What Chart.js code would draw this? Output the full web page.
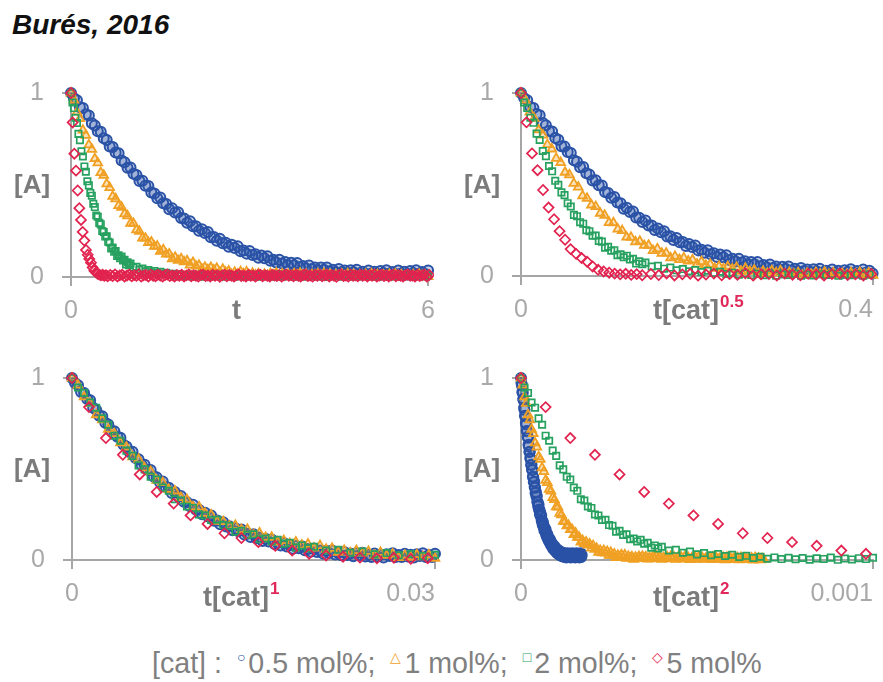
<!DOCTYPE html>
<html><head><meta charset="utf-8">
<script src="https://cdn.jsdelivr.net/npm/chart.js@4.4.1/dist/chart.umd.min.js"></script>
<style>
html,body{margin:0;padding:0;background:#fff}
body{width:883px;height:682px;overflow:hidden;position:relative;font-family:"Liberation Sans",Arial,sans-serif}
canvas{position:absolute}
.t{position:absolute;white-space:nowrap;z-index:5}
#title{left:12px;top:9px;font-weight:bold;font-style:italic;font-size:28px;color:#111}
.yt{font-weight:bold;font-size:26px;color:#7b7b7b}
.xt{font-weight:bold;font-size:27px;color:#7b7b7b}
.xt .sup{color:#e0285a;font-size:17px;position:relative;top:-12px;margin-left:1px}
#legend{font-size:28.6px;color:#808080}
#legend .m{font-size:14px;position:relative;top:-11px;margin:0 3px 0 7px}
</style></head><body>
<div id="title" class="t">Burés, 2016</div>
<canvas id="c0" width="445" height="270" style="left:0;top:60px"></canvas>
<canvas id="c1" width="443" height="270" style="left:440px;top:60px"></canvas>
<canvas id="c2" width="445" height="270" style="left:0;top:345px"></canvas>
<canvas id="c3" width="443" height="270" style="left:440px;top:345px"></canvas>
<div id="legend" class="t" style="left:152px;top:647px"></div>
<script>
// ---- data ----
const seriesLabels = ['0.5 mol%', '1 mol%', '2 mol%', '5 mol%'];
const catalystLoadings = [0.005, 0.01, 0.02, 0.05];   // [cat] for each series
const panelOrders = [0, 0.5, 1, 2];                   // exponent of [cat] on each x axis
const panelXMax = [6, 0.4, 0.03, 0.001];
const panelXTickLabels = [['0', '6'], ['0', '0.4'], ['0', '0.03'], ['0', '0.001']];
const panelXTitle = ['t', 't[cat]', 't[cat]', 't[cat]'];
const panelXTitleSup = ['', '0.5', '1', '2'];
const yTickLabels = ['0', '1'];
const yTitle = '[A]';
const legendPrefix = '[cat] : ';

const timeBlueOrange = [0,0.05,0.1,0.15,0.2,0.25,0.3,0.35,0.4,0.45,0.5,0.55,0.6,0.65,0.7,0.75,0.8,0.85,0.9,0.95,
  1.0,1.05,1.1,1.15,1.2,1.25,1.3,1.35,1.4,1.45,1.5,1.55,1.6,1.65,1.7,1.75,1.8,1.85,1.9,1.95,
  2.0,2.05,2.1,2.15,2.2,2.25,2.3,2.35,2.4,2.45,2.5,2.55,2.6,2.65,2.7,2.75,2.8,2.85,2.9,2.95,
  3.0,3.05,3.1,3.15,3.2,3.25,3.3,3.35,3.4,3.45,3.5,3.55,3.6,3.65,3.7,3.75,3.8,3.85,3.9,3.95,
  4.0,4.05,4.1,4.15,4.2,4.25,4.3,4.35,4.4,4.45,4.5,4.55,4.6,4.65,4.7,4.75,4.8,4.85,4.9,4.95,
  5.0,5.05,5.1,5.15,5.2,5.25,5.3,5.35,5.4,5.45,5.5,5.55,5.6,5.65,5.7,5.75,5.8,5.85,5.9,5.95,
  6.0,6.05,6.1,6.15,6.2,6.25,6.3,6.35,6.4,6.45,6.5,6.55,6.6,6.65,6.7,6.75,6.8,6.85,6.9];
const blueA = [1.000,0.972,0.960,0.923,0.918,0.885,0.878,0.836,0.824,0.792,0.790,0.754,0.744,0.709,0.707,0.677,0.672,0.633,0.624,0.594,
  0.595,0.561,0.554,0.522,0.523,0.496,0.495,0.459,0.454,0.428,0.432,0.401,0.397,0.368,0.373,0.350,0.352,0.320,0.318,0.295,
  0.303,0.276,0.276,0.251,0.259,0.239,0.245,0.216,0.217,0.197,0.208,0.184,0.186,0.164,0.175,0.158,0.167,0.140,0.144,0.127,
  0.141,0.119,0.124,0.104,0.117,0.102,0.113,0.088,0.094,0.079,0.094,0.074,0.081,0.062,0.077,0.064,0.076,0.053,0.060,0.046,
  0.063,0.044,0.052,0.035,0.051,0.039,0.052,0.030,0.039,0.026,0.044,0.027,0.036,0.020,0.037,0.026,0.040,0.019,0.029,0.017,
  0.036,0.019,0.029,0.014,0.032,0.022,0.037,0.017,0.027,0.016,0.035,0.019,0.029,0.014,0.032,0.022,0.037,0.017,0.027,0.016,
  0.035,0.019,0.029,0.014,0.032,0.022,0.037,0.017,0.027,0.016,0.035,0.019,0.029,0.014,0.032,0.022,0.037,0.017,0.027];
const orangeA = [1.000,0.961,0.896,0.861,0.798,0.770,0.718,0.694,0.643,0.620,0.567,0.553,0.506,0.486,0.438,0.425,0.388,0.379,0.343,0.332,
  0.292,0.291,0.256,0.248,0.212,0.211,0.187,0.190,0.167,0.168,0.139,0.148,0.124,0.125,0.099,0.107,0.090,0.099,0.082,0.088,
  0.065,0.079,0.059,0.064,0.042,0.053,0.039,0.052,0.038,0.047,0.026,0.042,0.025,0.033,0.013,0.026,0.015,0.029,0.017,0.028,
  0.009,0.020,0.011,0.018,0.004,0.015,0.008,0.019,0.010,0.021,0.009,0.017,0.005,0.014,0.007,0.018,0.011,0.020,0.008,0.016,
  0.004,0.013,0.009,0.017,0.006,0.019,0.010,0.015,0.003,0.012,0.008,0.016,0.005,0.018,0.009,0.014,0.002,0.011,0.007,0.015,
  0.004,0.017,0.008,0.013,0.003,0.010,0.006,0.014,0.002,0.016,0.007,0.012,0.003,0.009,0.005,0.013,0.001,0.015,0.006,0.011,
  0.002,0.008,0.004,0.012,0.001,0.014,0.005,0.010,0.002,0.007,0.003,0.011,0.000,0.013,0.004,0.009,0.001,0.006,0.003];
const timeGreen = [0,0.025,0.05,0.075,0.1,0.125,0.15,0.175,0.2,0.225,0.25,0.275,0.3,0.325,0.35,0.375,0.4,0.425,0.45,0.475,
  0.5,0.525,0.55,0.575,0.6,0.625,0.65,0.675,0.7,0.725,0.75,0.775,0.8,0.825,0.85,0.875,0.9,0.925,0.95,0.975,1.0,
  1.05,1.1,1.15,1.2,1.25,1.3,1.35,1.4,1.45,1.5,1.55,1.6,1.65,1.7,1.75,1.8,1.85,1.9,
  1.95,2.0,2.05,2.1,2.15,2.2,2.25,2.3,2.35,2.4,2.45,2.5,2.55,2.6,2.65,2.7,2.75,2.8,2.85,2.9,
  2.95,3.0,3.05,3.1,3.15,3.2,3.25,3.3,3.35,3.4,3.45,3.5,3.55,3.6,3.65,3.7,3.75,3.8,3.85,3.9,
  3.95,4.0,4.05,4.1,4.15,4.2,4.25,4.3,4.35,4.4,4.45,4.5,4.55,4.6,4.65,4.7,4.75,4.8,4.85,4.9,
  4.95,5.0,5.05,5.1,5.15,5.2,5.25,5.3,5.35,5.4,5.45,5.5,5.55,5.6,5.65,5.7,5.75,5.8,5.85,5.9,
  5.95,6.0,6.05,6.1,6.15,6.2,6.25,6.3,6.35,6.4,6.45,6.5,6.55,6.6,6.65,6.7,6.75,6.8,6.85,6.9];
const greenA = [1.000,0.948,0.918,0.865,0.837,0.778,0.743,0.683,0.655,0.601,0.572,0.520,0.498,0.457,0.442,0.398,0.380,0.334,0.327,0.294,
  0.286,0.250,0.245,0.220,0.221,0.192,0.188,0.155,0.160,0.138,0.141,0.114,0.118,0.102,0.111,0.090,0.094,0.068,0.080,0.064,0.073,
  0.052,0.056,0.040,0.046,0.031,0.038,0.026,0.033,0.022,0.029,0.017,0.023,0.011,0.018,0.007,0.014,0.005,0.012,
  0.004,0.011,0.002,0.009,0.006,0.013,0.001,0.008,0.003,0.010,0.005,0.012,0.001,0.008,0.004,0.011,0.002,0.009,0.006,0.010,
  0.003,0.010,0.005,0.012,0.001,0.008,0.004,0.011,0.002,0.009,0.006,0.013,0.002,0.009,0.005,0.010,0.001,0.008,0.004,0.012,
  0.002,0.009,0.006,0.011,0.003,0.010,0.000,0.008,0.005,0.012,0.004,0.011,0.001,0.009,0.006,0.013,0.002,0.008,0.003,0.010,
  0.005,0.012,0.003,0.010,0.001,0.008,0.004,0.011,0.002,0.009,0.006,0.010,0.002,0.009,0.004,0.012,0.001,0.007,0.005,0.011,
  0.003,0.010,0.006,0.012,0.002,0.009,0.004,0.011,0.001,0.008,0.005,0.012,0.002,0.009,0.006,0.011,0.003,0.010,0.004,0.009];
const timeRed = [0,0.028,0.056,0.084,0.112,0.14,0.168,0.196,0.224,0.252,0.28,0.308,0.336,0.364,0.392,0.42,0.448,0.476,0.504,0.532,0.56,0.588,0.616,
  0.66,0.70,0.74,0.78,0.82,0.86,0.90,0.94,0.98,1.02,1.06,1.10,1.14,1.18,1.22,1.26,1.30,1.34,1.38,1.42,1.46,1.50,1.54,1.58,1.62,1.66,1.70,1.74,1.78,1.82,1.86,1.90,1.94,1.98,
  2.02,2.06,2.10,2.14,2.18,2.22,2.26,2.30,2.34,2.38,2.42,2.46,2.50,2.54,2.58,2.62,2.66,2.70,2.74,2.78,2.82,2.86,2.90,2.94,2.98,
  3.02,3.06,3.10,3.14,3.18,3.22,3.26,3.30,3.34,3.38,3.42,3.46,3.50,3.54,3.58,3.62,3.66,3.70,3.74,3.78,3.82,3.86,3.90,3.94,3.98,
  4.02,4.06,4.10,4.14,4.18,4.22,4.26,4.30,4.34,4.38,4.42,4.46,4.50,4.54,4.58,4.62,4.66,4.70,4.74,4.78,4.82,4.86,4.90,4.94,4.98,
  5.02,5.06,5.10,5.14,5.18,5.22,5.26,5.30,5.34,5.38,5.42,5.46,5.50,5.54,5.58,5.62,5.66,5.70,5.74,5.78,5.82,5.86,5.90,5.94,5.98,
  6.02,6.06,6.10,6.14,6.18,6.22,6.26,6.30,6.34,6.38,6.42,6.46,6.50,6.54,6.58,6.62,6.66,6.70,6.74,6.78,6.82,6.86,6.90];
const redA = [1.000,0.840,0.670,0.578,0.470,0.374,0.310,0.245,0.198,0.147,0.121,0.098,0.078,0.052,0.034,0.025,0.018,0.013,0.009,0.012,0.006,0.010,0.004,
  0.011,0.005,0.014,0.003,0.009,0.012,0.002,0.008,0.013,0.004,0.010,0.006,0.015,0.002,0.009,0.011,0.003,0.013,0.007,0.004,
  0.012,0.008,0.002,0.010,0.014,0.005,0.009,0.003,0.011,0.006,0.012,0.003,0.009,0.014,0.004,0.010,0.007,0.002,0.011,0.013,
  0.005,0.008,0.003,0.012,0.006,0.010,0.001,0.009,0.013,0.004,0.011,0.007,0.002,0.010,0.014,0.005,0.008,0.003,0.012,0.006,
  0.009,0.002,0.011,0.013,0.004,0.010,0.007,0.003,0.012,0.008,0.005,0.011,0.002,0.009,0.013,0.006,0.010,0.004,0.012,0.007,
  0.003,0.010,0.014,0.005,0.008,0.002,0.011,0.006,0.013,0.004,0.009,0.012,0.003,0.010,0.007,0.001,0.011,0.014,0.005,0.008,
  0.002,0.012,0.006,0.009,0.004,0.013,0.007,0.010,0.003,0.011,0.006,0.014,0.002,0.008,0.012,0.005,0.010,0.003,0.009,0.013,
  0.004,0.011,0.007,0.002,0.010,0.014,0.006,0.008,0.003,0.012,0.005,0.009,0.013,0.002,0.011,0.007,0.004,0.010,0.012,0.006,
  0.003,0.008,0.013,0.005,0.010,0.002,0.011,0.009,0.006,0.012,0.004,0.010,0.007,0.013,0.002,0.009,0.011];

const seriesTimes = [timeBlueOrange, timeBlueOrange, timeGreen, timeRed];
const seriesConc = [blueA, orangeA, greenA, redA];

// ---- styles ----
const seriesColors = ['#2a52a6', '#f0a023', '#27a15f', '#e2234f'];
const seriesFills = ['rgba(42,82,166,0.25)', 'rgba(240,160,35,0.3)', 'rgba(255,255,255,0)', 'rgba(255,255,255,0)'];
const seriesShapes = ['circle', 'triangle', 'rect', 'rectRot'];
const seriesShapeGlyph = ['\u25CB', '\u25B3', '\u25A1', '\u25C7'];
const seriesRadius = [5, 5, 4.5, 5];
const seriesBorder = [2, 1.8, 1.7, 1.7];
const FONT = '"Liberation Sans", Arial, sans-serif';
const AXIS = '#a6a6a6', TICKTXT = '#a9a9a9';

const panelLayout = [
  {id: 'c0', pad: {top: 23, left: 0, right: 12, bottom: 3}, yW: 71, inner: false, yTitle: [14, 169], xTitle: [232, 295]},
  {id: 'c1', pad: {top: 23, left: 0, right: 3, bottom: 4}, yW: 81, inner: true, yTitle: [464, 169], xTitle: [653, 295]},
  {id: 'c2', pad: {top: 22, left: 0, right: 10, bottom: 5}, yW: 72, inner: true, yTitle: [14, 453], xTitle: [203, 582]},
  {id: 'c3', pad: {top: 22, left: 0, right: 3, bottom: 5}, yW: 81, inner: true, yTitle: [464, 453], xTitle: [653, 582]}
];

function buildPanel(p) {
  const L = panelLayout[p];
  const n = panelOrders[p], xMax = panelXMax[p];
  const datasets = seriesLabels.map((lab, s) => {
    const T = seriesTimes[s], A = seriesConc[s];
    const f = Math.pow(catalystLoadings[s], n);
    const pts = [];
    for (let i = 0; i < Math.min(T.length, A.length); i++) {
      const x = T[i] * f;
      if (x <= xMax * 1.004) pts.push({x: x, y: A[i]});
    }
    return {
      label: lab, data: pts, showLine: false,
      pointStyle: seriesShapes[s], pointRadius: seriesRadius[s], pointHoverRadius: seriesRadius[s],
      pointBorderColor: seriesColors[s], pointBackgroundColor: seriesFills[s], pointBorderWidth: seriesBorder[s],
      borderColor: seriesColors[s], backgroundColor: seriesFills[s],
      order: 4 - s, clip: {left: 12, top: 12, right: 6, bottom: 12}
    };
  });
  const tickFont = {family: FONT, size: 25};
  new Chart(document.getElementById(L.id), {
    type: 'scatter',
    data: {datasets},
    options: {
      responsive: false, animation: false, events: [],
      layout: {padding: L.pad},
      plugins: {legend: {display: false}, tooltip: {enabled: false}, title: {display: false}},
      scales: {
        x: {
          type: 'linear', min: 0, max: xMax,
          afterBuildTicks: sc => { sc.ticks = L.inner ? [{value: 0}, {value: 0}, {value: xMax}] : [{value: 0}, {value: xMax}]; },
          ticks: {
            autoSkip: false, maxRotation: 0, align: L.inner ? 'inner' : 'center', padding: 10,
            color: TICKTXT, font: tickFont,
            callback: (v, i) => { if (L.inner && i === 0) return ''; return v === 0 ? panelXTickLabels[p][0] : panelXTickLabels[p][1]; }
          },
          grid: {drawOnChartArea: false, drawTicks: true, tickLength: 9, color: AXIS, lineWidth: 2},
          border: {display: true, color: AXIS, width: 2},
          afterFit: sc => { sc.height = 50; }
        },
        y: {
          type: 'linear', min: 0, max: 1,
          afterBuildTicks: sc => { sc.ticks = [{value: 0}, {value: 1}]; },
          ticks: {autoSkip: false, padding: 18, color: TICKTXT, font: tickFont,
            callback: v => v === 0 ? yTickLabels[0] : yTickLabels[1]},
          grid: {drawOnChartArea: false, drawTicks: true, tickLength: 9, color: AXIS, lineWidth: 2},
          border: {display: true, color: AXIS, width: 2},
          afterFit: sc => { sc.width = L.yW; }
        }
      }
    }
  });
  const yt = document.createElement('div');
  yt.className = 't yt'; yt.textContent = yTitle;
  yt.style.left = L.yTitle[0] + 'px'; yt.style.top = L.yTitle[1] + 'px';
  document.body.appendChild(yt);
  const xt = document.createElement('div');
  xt.className = 't xt'; xt.textContent = panelXTitle[p];
  if (panelXTitleSup[p]) { const s = document.createElement('span'); s.className = 'sup'; s.textContent = panelXTitleSup[p]; xt.appendChild(s); }
  xt.style.left = L.xTitle[0] + 'px'; xt.style.top = L.xTitle[1] + 'px';
  document.body.appendChild(xt);
}
for (let p = 0; p < 4; p++) buildPanel(p);

const lg = document.getElementById('legend');
lg.appendChild(document.createTextNode(legendPrefix));
seriesLabels.forEach((lab, s) => {
  const m = document.createElement('span'); m.className = 'm'; m.style.color = seriesColors[s]; m.textContent = seriesShapeGlyph[s];
  lg.appendChild(m);
  lg.appendChild(document.createTextNode(lab + (s < seriesLabels.length - 1 ? '; ' : '')));
});
</script>
</body></html>
